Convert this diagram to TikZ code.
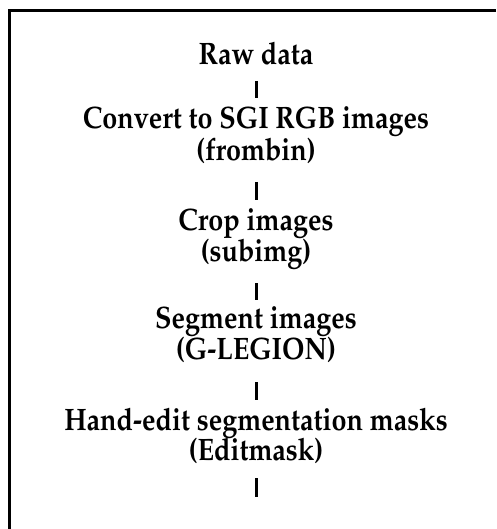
\documentclass[tikz,border=0pt]{standalone}
\usepackage[T1]{fontenc}
\usepackage{mathpazo}
\newcommand{\steplabel}[1]{\scalebox{0.87}[1]{\fontsize{31}{35}\selectfont\bfseries #1}}
\begin{document}
\begin{tikzpicture}[x=1pt,y=1pt,
  steptext/.style={anchor=base, inner sep=0pt},
  bar/.style={line width=3pt, line cap=butt},
  frame/.style={line width=3pt}]
\useasboundingbox (0,0) rectangle (496,-529);
\fill[white] (0,0) rectangle (496,-529);
% frame
\draw[frame] (496,-11) -- (9.5,-11) -- (9.5,-529);
% text lines
\node[steptext] (raw)      at (256,-65)  {\steplabel{Raw data}};
\node[steptext] (convert)  at (256,-129) {\steplabel{Convert to SGI RGB images}};
\node[steptext] (frombin)  at (256,-161) {\steplabel{(frombin)}};
\node[steptext] (crop)     at (256,-230) {\steplabel{Crop images}};
\node[steptext] (subimg)   at (256,-261) {\steplabel{(subimg)}};
\node[steptext] (segment)  at (256,-328) {\steplabel{Segment images}};
\node[steptext] (glegion)  at (256,-359) {\steplabel{(G-LEGION)}};
\node[steptext] (hand)     at (256,-430) {\steplabel{Hand-edit segmentation masks}};
\node[steptext] (editmask) at (256,-460) {\steplabel{(Editmask)}};
\coordinate (tail) at (256,-497);
% connectors
\draw[bar, shorten <=16pt, shorten >=31pt] (raw.base) -- (convert.base);
\draw[bar, shorten <=21pt, shorten >=30pt] (frombin.base) -- (crop.base);
\draw[bar, shorten <=22pt, shorten >=28pt] (subimg.base) -- (segment.base);
\draw[bar, shorten <=23pt, shorten >=30pt] (glegion.base) -- (hand.base);
\draw[bar, shorten <=18pt] (editmask.base) -- (tail);
\end{tikzpicture}
\end{document}
